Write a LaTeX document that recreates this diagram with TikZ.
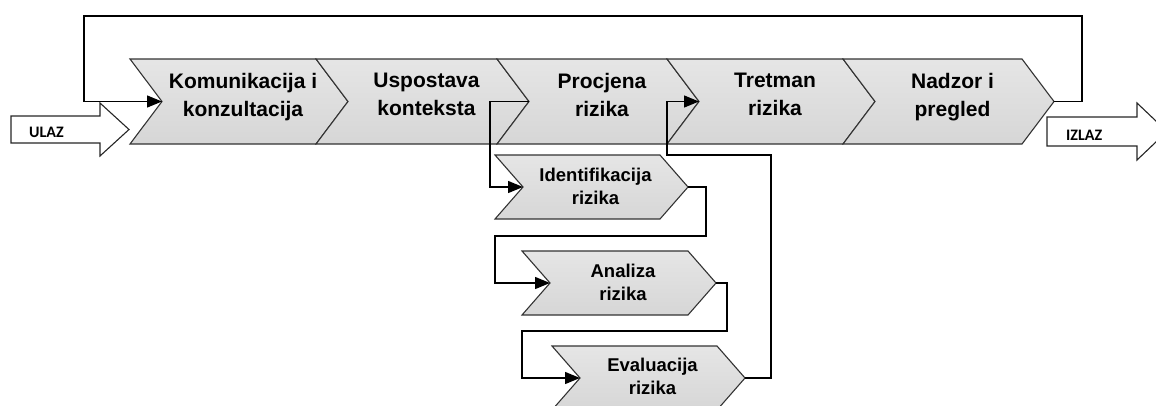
\documentclass[tikz,border=0pt]{standalone}
\usepackage{fontspec}
\setmainfont{Liberation Sans}
\newfontfamily\calib{Carlito}
\usetikzlibrary{arrows.meta,calc}
\tikzset{
  chev/.style={draw=black!80, line width=1.1pt, line join=miter,
    top color=gray!20, middle color=gray!4, bottom color=gray!32},
  mtext/.style={font=\bfseries\fontsize{21}{28}\selectfont, align=center, inner sep=0pt, text depth=0pt},
  stext/.style={font=\bfseries\fontsize{18.5}{23}\selectfont, align=center, inner sep=0pt, text depth=0pt},
  io/.style={draw=black!85, line width=1.1pt, fill=white, line join=miter},
  iotext/.style={font=\calib\bfseries\fontsize{16}{16}\selectfont, inner sep=0pt, anchor=base west},
  conn/.style={draw=black, line width=1.4pt},
  arr/.style={conn, -{Triangle[length=15pt,width=12pt]}}
}
% #1 name, #2 xl, #3 xr, #4 ytop, #5 ybot, #6 depth, #7 style, #8 dy, #9 text
\newcommand\chevshape[9]{%
  \pgfmathsetmacro\ym{(#4+#5)/2}%
  \path[chev] (#2,#4) -- (#3,#4) -- (#3+#6,\ym) -- (#3,#5) -- (#2,#5) -- (#2+#6,\ym) -- cycle;
  \coordinate (#1-notch) at (#2+#6,\ym);
  \coordinate (#1-tip) at (#3+#6,\ym);
  \node[#7] (#1) at ({(#2+#3+#6)/2+4},\ym+#8) {#9};
}
\begin{document}
\begin{tikzpicture}[x=1pt,y=-1pt]
\useasboundingbox (0,0) rectangle (1156,405);
% IO arrows
\path[io] (11,116) -- (100,116) -- (100,103) -- (129,129.5) -- (100,156) -- (100,143) -- (11,143) -- cycle;
\node[iotext] (ulaz) at (29,137) {ULAZ};
\path[io] (1047,117) -- (1137,117) -- (1137,103) -- (1167,131.5) -- (1137,160) -- (1137,146) -- (1047,146) -- cycle;
\node[iotext] (izlaz) at (1066,140) {IZLAZ};
% main chevrons
\chevshape{kom}{130}{316}{59}{144}{32}{mtext}{-7}{Komunikacija i\\konzultacija}
\chevshape{usp}{316}{497}{59}{144}{32}{mtext}{-7}{Uspostava\\konteksta}
\chevshape{pro}{497}{667}{59}{144}{32}{mtext}{-7}{Procjena\\rizika}
\chevshape{tre}{667}{843}{59}{144}{32}{mtext}{-7}{Tretman\\rizika}
\chevshape{nad}{843}{1022}{59}{144}{32}{mtext}{-7}{Nadzor i\\pregled}
% sub chevrons
\chevshape{ide}{495}{660}{155}{219}{28}{stext}{-1}{Identifikacija\\rizika}
\chevshape{ana}{522}{688}{251}{315}{28}{stext}{-1}{Analiza\\rizika}
\chevshape{eva}{552}{717}{346}{410}{28}{stext}{-2}{Evaluacija\\rizika}
% connectors
\coordinate (fbR) at (1082,16);
\coordinate (fbL) at (84,16);
\draw[arr] (nad-tip) -| (fbR) -- (fbL) |- (kom-notch);
\coordinate (c2) at (490,101.5);
\draw[arr] (usp-tip) -- (c2) |- (ide-notch);
\coordinate (c3a) at (706,236);
\coordinate (c3b) at (495,236);
\draw[arr] (ide-tip) -| (c3a) -- (c3b) |- (ana-notch);
\coordinate (c4a) at (727,331);
\coordinate (c4b) at (522,331);
\draw[arr] (ana-tip) -| (c4a) -- (c4b) |- (eva-notch);
\coordinate (c5a) at (771,155);
\coordinate (c5b) at (667,155);
\draw[arr] (eva-tip) -| (c5a) -- (c5b) |- (tre-notch);
\end{tikzpicture}
\end{document}
